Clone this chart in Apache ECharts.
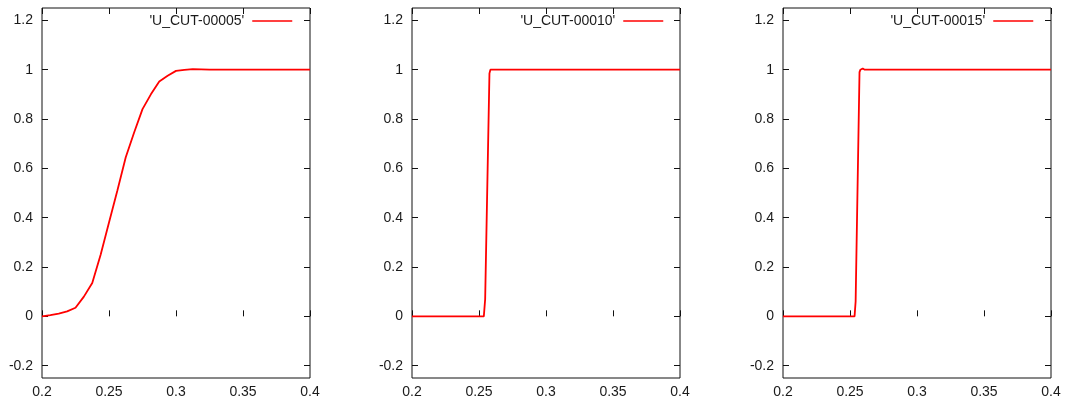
<!DOCTYPE html>
<html>
<head>
<meta charset="utf-8">
<script src="https://cdn.jsdelivr.net/npm/echarts@6/dist/echarts.min.js"></script>
<style>
html,body{margin:0;padding:0;background:#fff;}
#chart{width:1067px;height:403px;}
</style>
</head>
<body>
<div id="chart"></div>
<script>
// ---- data ----
const seriesNames = ["'U_CUT-00005'", "'U_CUT-00010'", "'U_CUT-00015'"];

const x05 = [0.2, 0.20625, 0.2125, 0.21875, 0.225, 0.23125, 0.2375, 0.24375, 0.25, 0.25625, 0.2625, 0.26875, 0.275, 0.28125, 0.2875, 0.29375, 0.3, 0.30625, 0.3125, 0.325, 0.35, 0.375, 0.4];
const u05 = [0.0, 0.005, 0.011, 0.02, 0.035, 0.08, 0.135, 0.25, 0.38, 0.51, 0.645, 0.745, 0.84, 0.9, 0.952, 0.975, 0.995, 0.999, 1.002, 1.0, 1.0, 1.0, 1.0];

const x10 = [0.2, 0.225, 0.25, 0.2536, 0.2546, 0.2578, 0.2585, 0.2596, 0.261, 0.3, 0.35, 0.4];
const u10 = [0.0, 0.0, 0.0, 0.0, 0.07, 0.985, 1.0, 1.005, 1.0, 1.0, 1.0, 1.0];

const x15 = [0.2, 0.225, 0.25, 0.2534, 0.2542, 0.2571, 0.2578, 0.2595, 0.261, 0.3, 0.35, 0.4];
const u15 = [0.0, 0.0, 0.0, 0.0, 0.06, 0.99, 1.0, 1.005, 1.0, 1.0, 1.0, 1.0];

const xMin = 0.2, xMax = 0.4, xStep = 0.05;
const yMin = -0.25, yMax = 1.25;          // plotted range
const yTickMin = -0.2, yTickMax = 1.2, yTickStep = 0.2;  // tick labels

// ---- layout ----
const panelLeft = [42, 412, 783];
const panelWidth = 268;
const plotTop = 8, plotHeight = 370;
const legendRight = [774, 403, 33];
const xData = [x05, x10, x15];
const yData = [u05, u10, u15];

const font = 'Liberation Sans, Arial, sans-serif';
const txtColor = '#1a1a1a';
const axisColor = '#111';

const grids = [], xAxes = [], yAxes = [], series = [], legends = [];
const pxPerUnit = plotHeight / (yMax - yMin);
const inset = (yMax - yTickMax) * pxPerUnit;

for (let i = 0; i < 3; i++) {
  // main grid
  grids.push({left: panelLeft[i], width: panelWidth, top: plotTop, height: plotHeight,
    show: true, borderColor: axisColor, borderWidth: 1, backgroundColor: 'transparent'});
  // tick overlay grid (spans -0.2 .. 1.2 exactly)
  grids.push({left: panelLeft[i], width: panelWidth, top: plotTop + inset, height: plotHeight - 2 * inset, show: false});
  const gMain = 2 * i, gTick = 2 * i + 1;

  const xBottomIdx = xAxes.length;
  xAxes.push({type: 'value', gridIndex: gMain, position: 'bottom', min: xMin, max: xMax, interval: xStep,
    axisLine: {show: false}, splitLine: {show: false},
    axisTick: {show: true, inside: true, length: 6, lineStyle: {color: axisColor}},
    axisLabel: {show: true, margin: 7, color: txtColor, fontSize: 14, fontFamily: font}});
  xAxes.push({type: 'value', gridIndex: gMain, position: 'top', min: xMin, max: xMax, interval: xStep,
    axisLine: {show: false}, splitLine: {show: false},
    axisTick: {show: true, inside: true, length: 6, lineStyle: {color: axisColor}},
    axisLabel: {show: false}});
  xAxes.push({type: 'value', gridIndex: gTick, min: xMin, max: xMax, show: false});

  const yMainIdx = yAxes.length;
  yAxes.push({type: 'value', gridIndex: gMain, min: yMin, max: yMax,
    axisLine: {show: false}, axisTick: {show: false}, axisLabel: {show: false}, splitLine: {show: false}});
  yAxes.push({type: 'value', gridIndex: gTick, position: 'left', min: yTickMin, max: yTickMax, interval: yTickStep,
    axisLine: {show: false}, splitLine: {show: false},
    axisTick: {show: true, inside: true, length: 6, lineStyle: {color: axisColor}},
    axisLabel: {show: true, margin: 9, color: txtColor, fontSize: 14, fontFamily: font}});
  yAxes.push({type: 'value', gridIndex: gTick, position: 'right', min: yTickMin, max: yTickMax, interval: yTickStep,
    axisLine: {show: false}, splitLine: {show: false},
    axisTick: {show: true, inside: true, length: 6, lineStyle: {color: axisColor}},
    axisLabel: {show: false}});

  series.push({
    name: seriesNames[i], type: 'line', xAxisIndex: xBottomIdx, yAxisIndex: yMainIdx,
    data: xData[i].map((x, k) => [x, yData[i][k]]),
    showSymbol: false, symbol: 'none', clip: true,
    lineStyle: {color: '#ff0000', width: 1.8}, itemStyle: {color: '#ff0000'}
  });

  legends.push({
    data: [seriesNames[i]], right: legendRight[i], top: 14, padding: 0,
    align: 'right', itemWidth: 40, itemHeight: 14, selectedMode: false,
    itemStyle: {opacity: 0},
    lineStyle: {color: '#ff0000', width: 1.5, opacity: 1},
    textStyle: {color: txtColor, fontSize: 14, fontFamily: font, padding: [0, 3, 0, 0]}
  });
}

const chart = echarts.init(document.getElementById('chart'), null, {renderer: 'canvas'});
chart.setOption({
  animation: false,
  backgroundColor: '#fff',
  grid: grids, xAxis: xAxes, yAxis: yAxes, series: series, legend: legends
});
</script>
</body>
</html>
